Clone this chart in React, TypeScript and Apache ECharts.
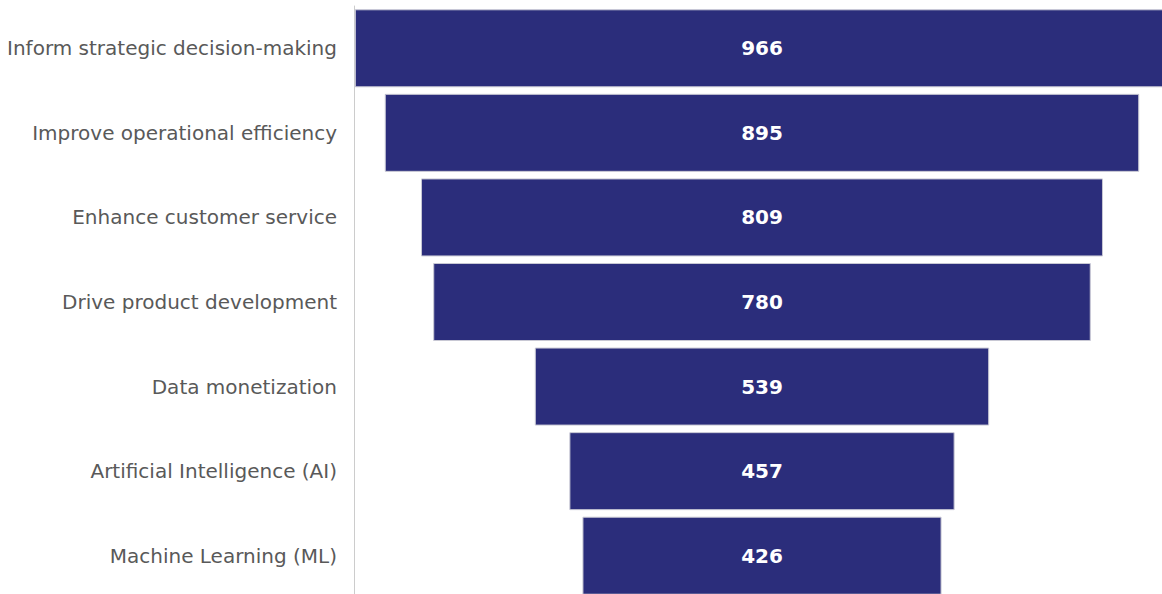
import React, { useEffect, useRef } from "react";
import * as echarts from "echarts";

const categories = [
  "Inform strategic decision-making",
  "Improve operational efficiency",
  "Enhance customer service",
  "Drive product development",
  "Data monetization",
  "Artificial Intelligence (AI)",
  "Machine Learning (ML)",
];
const values = [966, 895, 809, 780, 539, 457, 426];
const axisMax = 968;

export default function App() {
  const ref = useRef<HTMLDivElement>(null);
  useEffect(() => {
    if (!ref.current) return;
    const chart = echarts.init(ref.current, undefined, { renderer: "svg" });
    const offsets = values.map((v) => (axisMax - v) / 2);
    chart.setOption({
      animation: false,
      backgroundColor: "#ffffff",
      grid: { left: 354, right: 0, top: 6, bottom: 2, containLabel: false },
      xAxis: { type: "value", min: 0, max: axisMax, show: false },
      yAxis: {
        type: "category",
        data: categories,
        inverse: true,
        axisLine: { show: true, lineStyle: { color: "#cccccc", width: 1 } },
        axisTick: { show: false },
        axisLabel: {
          color: "#595959",
          fontSize: 20,
          fontFamily: "DejaVu Sans",
          margin: 17,
        },
      },
      series: [
        {
          type: "bar",
          stack: "f",
          data: offsets,
          barWidth: 78,
          itemStyle: { color: "transparent" },
          silent: true,
        },
        {
          type: "bar",
          stack: "f",
          data: values,
          barWidth: 78,
          itemStyle: { color: "#2b2d7b", borderColor: "#c8c8d4", borderWidth: 1 },
          label: {
            show: true,
            position: "inside",
            color: "#ffffff",
            fontWeight: "bold",
            fontSize: 20,
            fontFamily: "DejaVu Sans",
          },
        },
      ],
    });
    return () => chart.dispose();
  }, []);
  return (
    <div
      style={{
        position: "absolute",
        left: 0,
        top: 0,
        width: 1162,
        height: 594,
        overflow: "hidden",
      }}
    >
      <div ref={ref} style={{ width: 1170, height: 600 }} />
    </div>
  );
}
